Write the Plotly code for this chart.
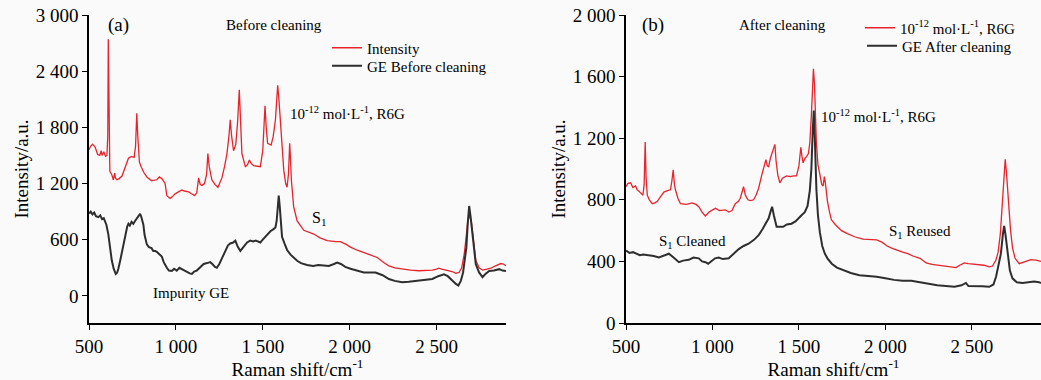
import plotly.graph_objects as go
from plotly.subplots import make_subplots

# ---------------- data ----------------
# Panel (a): before cleaning
a_red_x = [500, 510, 521, 535, 550, 562, 570, 575, 585, 595, 603, 608, 611, 615, 620, 630, 640, 648, 652, 660,
           672, 690, 710, 727, 745, 760, 768, 775, 781, 790, 800, 815, 833, 860, 890, 905, 920, 938, 948, 967,
           980, 996, 1015, 1034, 1050, 1073, 1090, 1108, 1120, 1131, 1140, 1150, 1165, 1177, 1184, 1192, 1207, 1225, 1242, 1265,
           1280, 1294, 1305, 1313, 1320, 1332, 1345, 1355, 1365, 1372, 1380, 1400, 1412, 1423, 1435, 1448, 1470, 1486, 1500, 1507,
           1513, 1520, 1528, 1548, 1560, 1573, 1580, 1586, 1593, 1601, 1611, 1621, 1632, 1640, 1648, 1655, 1660, 1665, 1678, 1698,
           1736, 1794, 1830, 1871, 1920, 1947, 1980, 2005, 2040, 2082, 2120, 2159, 2200, 2226, 2260, 2303, 2350, 2399, 2440, 2476,
           2500, 2514, 2530, 2563, 2590, 2611, 2630, 2645, 2660, 2670, 2680, 2690, 2700, 2713, 2726, 2745, 2765, 2790, 2812, 2840,
           2870, 2885, 2900]
a_red_y = [1560, 1600, 1620, 1590, 1510, 1500, 1550, 1500, 1540, 1490, 1500, 1700, 2740, 1900, 1330, 1300, 1240, 1310, 1260, 1240,
           1250, 1280, 1390, 1470, 1490, 1480, 1600, 1950, 1700, 1430, 1380, 1320, 1270, 1230, 1240, 1270, 1250, 1200, 1070, 1040,
           1060, 1090, 1110, 1130, 1120, 1110, 1090, 1070, 1100, 1260, 1190, 1180, 1200, 1300, 1520, 1380, 1240, 1190, 1160, 1260,
           1380, 1520, 1700, 1880, 1720, 1550, 1620, 1850, 2200, 1800, 1520, 1380, 1400, 1450, 1410, 1390, 1380, 1380, 1550, 1800,
           2030, 1800, 1630, 1610, 1700, 1880, 2150, 2250, 2100, 1870, 1600, 1340, 1200, 1160, 1300, 1630, 1450, 1230, 950, 800,
           700, 660, 620, 590, 580, 580, 550, 520, 490, 460, 440, 410, 350, 320, 300, 285, 275, 268, 270, 275,
           285, 295, 285, 275, 260, 240, 250, 300, 450, 620, 790, 860, 800, 590, 380, 300, 275, 285, 295, 320,
           345, 340, 322]

a_blk_x = [500, 510, 520, 530, 540, 554, 565, 575, 585, 592, 600, 611, 620, 631, 642, 654, 662, 669, 680, 690,
           698, 710, 720, 727, 735, 745, 755, 765, 775, 785, 794, 800, 808, 813, 820, 833, 845, 860, 870, 881,
           890, 905, 919, 930, 940, 948, 960, 977, 990, 1005, 1020, 1034, 1050, 1065, 1080, 1092, 1105, 1120, 1140, 1160,
           1180, 1198, 1210, 1225, 1236, 1250, 1265, 1284, 1300, 1313, 1330, 1342, 1355, 1371, 1390, 1410, 1428, 1445, 1460, 1486,
           1500, 1520, 1544, 1560, 1573, 1580, 1585, 1592, 1598, 1605, 1611, 1625, 1640, 1660, 1680, 1698, 1720, 1755, 1790, 1820,
           1851, 1880, 1910, 1928, 1950, 1975, 2005, 2040, 2082, 2120, 2149, 2190, 2226, 2260, 2303, 2340, 2370, 2399, 2440, 2476,
           2510, 2543, 2565, 2591, 2610, 2626, 2640, 2653, 2663, 2672, 2680, 2688, 2696, 2707, 2716, 2726, 2745, 2765, 2780, 2803,
           2830, 2861, 2880, 2900]
a_blk_y = [880, 900, 870, 890, 850, 840, 860, 820, 830, 800, 760, 660, 520, 380, 290, 235, 250, 290, 380, 470,
           560, 680, 740, 770, 750, 790, 770, 800, 830, 860, 875, 850, 800, 760, 650, 550, 520, 510, 480, 480,
           470, 440, 420, 360, 320, 300, 270, 265, 290, 270, 300, 285, 270, 250, 240, 235, 260, 270, 300, 340,
           350, 360, 340, 310, 300, 340, 400, 480, 540, 560, 570, 590, 530, 480, 520, 570, 590, 580, 590, 570,
           600, 640, 690, 710, 730, 800, 950, 1070, 950, 750, 630, 560, 490, 440, 400, 375, 350, 330, 320, 330,
           325, 320, 340, 355, 340, 310, 290, 270, 250, 250, 250, 220, 180, 160, 145, 150, 155, 160, 170, 180,
           210, 230, 210, 160, 130, 110, 160, 250, 380, 520, 780, 960, 850, 660, 480, 340, 250, 200, 230, 265,
           270, 285, 270, 265]

# Panel (b): after cleaning
b_red_x = [500, 510, 527, 540, 555, 565, 580, 598, 605, 611, 616, 623, 635, 652, 667, 681, 700, 719, 740, 757,
           765, 773, 780, 786, 800, 815, 850, 882, 905, 921, 940, 959, 980, 1000, 1017, 1040, 1074, 1095, 1113, 1132,
           1150, 1161, 1172, 1180, 1190, 1205, 1220, 1238, 1252, 1267, 1285, 1297, 1309, 1317, 1325, 1335, 1345, 1353, 1361, 1368,
           1378, 1390, 1405, 1428, 1450, 1470, 1486, 1500, 1511, 1518, 1524, 1535, 1544, 1555, 1563, 1572, 1579, 1584, 1590, 1596,
           1601, 1610, 1621, 1632, 1640, 1647, 1653, 1660, 1665, 1677, 1688, 1710, 1746, 1780, 1822, 1870, 1919, 1950, 1980, 2010,
           2040, 2082, 2100, 2130, 2159, 2200, 2236, 2270, 2313, 2360, 2409, 2430, 2457, 2480, 2524, 2570, 2600, 2620, 2640, 2652,
           2665, 2678, 2686, 2693, 2700, 2712, 2724, 2735, 2750, 2774, 2800, 2820, 2841, 2870, 2900]
b_red_y = [885, 905, 910, 880, 890, 865, 850, 830, 900, 1175, 950, 830, 800, 775, 780, 790, 820, 850, 860, 865,
           920, 995, 900, 865, 810, 775, 770, 780, 770, 755, 720, 695, 720, 735, 745, 730, 735, 720, 730, 775,
           790, 810, 850, 885, 830, 800, 795, 800, 830, 875, 960, 1010, 1060, 1020, 1015, 1070, 1100, 1130, 1160, 1050,
           960, 910, 940, 955, 950, 955, 955, 1020, 1140, 1080, 1040, 1070, 1080, 1100, 1170, 1350, 1560, 1650, 1550, 1350,
           1170, 1030, 950, 900, 890, 950, 910, 830, 790, 720, 670, 640, 600, 580, 560, 545, 540, 540, 525, 500,
           485, 465, 460, 450, 435, 420, 390, 380, 375, 370, 360, 375, 390, 385, 382, 375, 365, 370, 410, 460,
           580, 780, 960, 1063, 980, 770, 600, 490, 420, 385, 395, 405, 412, 408, 400]

b_blk_x = [500, 520, 540, 556, 580, 600, 633, 660, 690, 720, 748, 770, 790, 806, 830, 863, 890, 921, 940, 960,
           975, 995, 1015, 1036, 1060, 1094, 1120, 1152, 1180, 1209, 1240, 1267, 1290, 1310, 1325, 1335, 1345, 1355, 1371, 1390,
           1409, 1430, 1457, 1480, 1495, 1515, 1534, 1550, 1563, 1572, 1580, 1586, 1592, 1601, 1610, 1621, 1635, 1650, 1665, 1690,
           1720, 1750, 1800, 1850, 1900, 1950, 2000, 2050, 2100, 2150, 2200, 2250, 2300, 2350, 2400, 2440, 2466, 2480, 2520, 2560,
           2600, 2625, 2640, 2655, 2668, 2680, 2687, 2695, 2706, 2720, 2735, 2760, 2793, 2830, 2860, 2889, 2900]
b_blk_y = [470, 455, 460, 450, 440, 445, 440, 435, 425, 440, 450, 430, 410, 395, 405, 410, 425, 420, 400, 395,
           385, 405, 420, 425, 415, 420, 450, 480, 500, 515, 540, 570, 610, 650, 680, 720, 755, 700, 625, 625,
           625, 640, 645, 660, 680, 700, 720, 760, 860, 1000, 1250, 1380, 1200, 870, 700, 590, 500, 450, 420, 385,
           360, 345, 325, 310, 305, 300, 290, 280, 275, 275, 265, 255, 245, 240, 235, 245, 260, 240, 240, 238,
           235, 250, 300, 380, 450, 580, 630, 570, 450, 340, 290, 265, 260, 265, 270, 265, 260]

x_ticks = [500, 1000, 1500, 2000, 2500]
x_ticktext = ["500", "1 000", "1 500", "2 000", "2 500"]
a_y_ticks = [0, 600, 1200, 1800, 2400, 3000]
a_y_ticktext = ["0", "600", "1 200", "1 800", "2 400", "3 000"]
b_y_ticks = [0, 400, 800, 1200, 1600, 2000]
b_y_ticktext = ["0", "400", "800", "1 200", "1 600", "2 000"]

# ---------------- figure ----------------
RED = "#e8232b"
BLK = "#2e2e2e"
FONT = "Liberation Serif, Times New Roman, DejaVu Serif, serif"
R6G = "10<sup>-12</sup> mol·L<sup>-1</sup>, R6G"

fig = make_subplots(rows=1, cols=2)

fig.add_trace(go.Scatter(x=a_red_x, y=a_red_y, mode="lines", name="Intensity",
                         line=dict(color=RED, width=1.3), legend="legend"), row=1, col=1)
fig.add_trace(go.Scatter(x=a_blk_x, y=a_blk_y, mode="lines", name="GE Before cleaning",
                         line=dict(color=BLK, width=2.0), legend="legend3"), row=1, col=1)
fig.add_trace(go.Scatter(x=b_red_x, y=b_red_y, mode="lines", name=R6G,
                         line=dict(color=RED, width=1.3), legend="legend2"), row=1, col=2)
fig.add_trace(go.Scatter(x=b_blk_x, y=b_blk_y, mode="lines", name="GE After cleaning",
                         line=dict(color=BLK, width=2.0), legend="legend4"), row=1, col=2)

W, H = 1041, 380
axis_common = dict(showline=True, linecolor="black", linewidth=1.6, ticks="outside",
                   ticklen=5, tickwidth=1.4, tickcolor="black", showgrid=False, zeroline=False,
                   automargin=False,
                   tickfont=dict(family=FONT, size=19, color="black"))

fig.update_xaxes(**axis_common, range=[500, 2900], tickvals=x_ticks, ticktext=x_ticktext,
                 title=dict(text="Raman shift/cm<sup>-1</sup>", font=dict(family=FONT, size=19, color="black"),
                            standoff=2))
fig.update_xaxes(domain=[89 / W, 506 / W], row=1, col=1)
fig.update_xaxes(domain=[626 / W, 1.0], row=1, col=2)

fig.update_yaxes(**axis_common,
                 title=dict(text="Intensity/a.u.", font=dict(family=FONT, size=19, color="black"), standoff=2))
fig.update_yaxes(range=[-290, 3000], tickvals=a_y_ticks, ticktext=a_y_ticktext, row=1, col=1)
fig.update_yaxes(range=[0, 2000], tickvals=b_y_ticks, ticktext=b_y_ticktext, row=1, col=2)

ann_font = dict(family=FONT, size=15, color="black")
anns = [
    dict(x=598, y=2890, xref="x", yref="y", text="(a)", font=dict(family=FONT, size=19, color="black")),
    dict(x=1278, y=2890, xref="x", yref="y", text="Before cleaning", font=ann_font),
    dict(x=1648, y=1950, xref="x", yref="y", text=R6G, font=ann_font),
    dict(x=1774, y=825, xref="x", yref="y", text="S<sub>1</sub>", font=dict(family=FONT, size=16, color="black")),
    dict(x=858, y=32, xref="x", yref="y", text="Impurity GE", font=ann_font),
    dict(x=582, y=1936, xref="x2", yref="y2", text="(b)", font=dict(family=FONT, size=19, color="black")),
    dict(x=1142, y=1936, xref="x2", yref="y2", text="After cleaning", font=ann_font),
    dict(x=1615, y=1344, xref="x2", yref="y2", text=R6G, font=ann_font),
    dict(x=681, y=525, xref="x2", yref="y2", text="S<sub>1</sub> Cleaned", font=ann_font),
    dict(x=2007, y=590, xref="x2", yref="y2", text="S<sub>1</sub> Reused", font=ann_font),
]
for a in anns:
    a.update(showarrow=False, xanchor="left", yanchor="middle")
    fig.add_annotation(**a)


def py_to_paper(py):
    return (323 - py) / 308


legend_common = dict(font=dict(family=FONT, size=15, color="black"), bgcolor="rgba(0,0,0,0)",
                     borderwidth=0, xanchor="left", yanchor="middle", tracegroupgap=0)
fig.update_layout(
    width=W, height=H,
    font=dict(family=FONT, color="black"),
    margin=dict(l=0, r=0, t=15, b=57, autoexpand=False),
    paper_bgcolor="#fafafa", plot_bgcolor="#fafafa",
    showlegend=True,
    legend=dict(**legend_common, x=327 / W, y=py_to_paper(48)),
    legend3=dict(**legend_common, x=327 / W, y=py_to_paper(66)),
    legend2=dict(**legend_common, x=860 / W, y=py_to_paper(28)),
    legend4=dict(**legend_common, x=862 / W, y=py_to_paper(46)),
)

fig.write_html("out.html", config={"displayModeBar": False},
               post_script="document.body.style.margin='0';document.body.style.overflow='hidden';")
